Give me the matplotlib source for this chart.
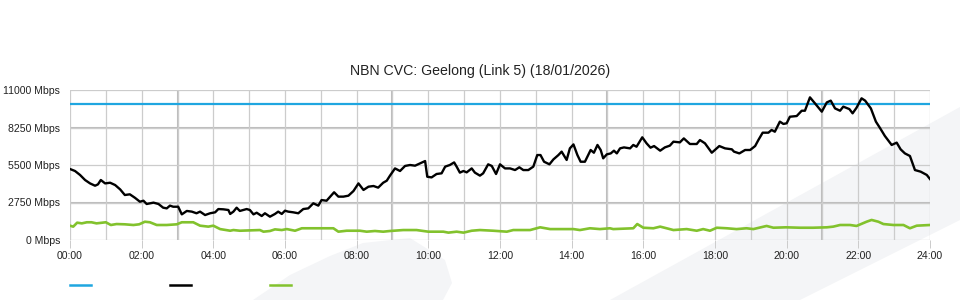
"""
NBN CVC link utilisation for one day (Geelong, link 5).
Values read off the daily graph.
"""

import matplotlib

matplotlib.use("Agg")
import matplotlib.pyplot as plt
from matplotlib.lines import Line2D
from matplotlib.patches import Polygon

plt.rcParams["font.family"] = ["Liberation Sans", "DejaVu Sans"]

TITLE = "NBN CVC: Geelong (Link 5) (18/01/2026)"

# capacity of the link (Mbps)
capacity_hours = [0, 24]
capacity_mbps = [10000, 10000]

# traffic (Mbps), hour of day
traffic_hours = [
    0.00, 0.14, 0.28, 0.42, 0.56, 0.70, 0.78, 0.86, 0.98, 1.12, 1.26, 1.40,
    1.53, 1.67, 1.81, 1.95, 2.05, 2.14, 2.33, 2.47, 2.60, 2.70, 2.79, 2.88,
    3.02, 3.12, 3.26, 3.40, 3.53, 3.63, 3.77, 3.91, 4.05, 4.14, 4.28, 4.42,
    4.47, 4.56, 4.65, 4.74, 4.93, 5.02, 5.12, 5.21, 5.35, 5.44, 5.58, 5.72,
    5.81, 5.91, 6.00, 6.09, 6.23, 6.37, 6.51, 6.65, 6.79, 6.93, 7.02, 7.16,
    7.26, 7.37, 7.49, 7.63, 7.77, 7.91, 8.05, 8.19, 8.33, 8.47, 8.60, 8.74,
    8.84, 8.93, 9.07, 9.21, 9.35, 9.49, 9.63, 9.77, 9.91, 9.97, 10.09, 10.23,
    10.37, 10.47, 10.60, 10.72, 10.79, 10.88, 10.98, 11.07, 11.21, 11.30, 11.44,
    11.53, 11.67, 11.77, 11.89, 12.00, 12.14, 12.28, 12.42, 12.54, 12.65, 12.79,
    12.93, 13.04, 13.13, 13.23, 13.38, 13.49, 13.63, 13.72, 13.86, 13.95, 14.05,
    14.16, 14.25, 14.37, 14.53, 14.62, 14.72, 14.81, 14.88, 14.98, 15.09, 15.18,
    15.26, 15.35, 15.46, 15.63, 15.72, 15.81, 15.97, 16.09, 16.20, 16.30, 16.47,
    16.60, 16.74, 16.84, 17.02, 17.13, 17.30, 17.49, 17.58, 17.72, 17.91, 18.12,
    18.28, 18.47, 18.53, 18.68, 18.84, 18.98, 19.12, 19.21, 19.33, 19.49, 19.58,
    19.67, 19.81, 19.91, 20.00, 20.09, 20.28, 20.42, 20.51, 20.65, 20.79, 20.98,
    21.12, 21.23, 21.35, 21.49, 21.58, 21.75, 21.84, 21.95, 22.09, 22.19, 22.35,
    22.49, 22.61, 22.74, 22.93, 23.07, 23.18, 23.30, 23.44, 23.58, 23.74, 23.91,
    24.00,
]
traffic_mbps = [
    5206, 5060, 4770, 4400, 4150, 3980, 4080, 4400, 4150, 4200, 4030, 3710,
    3300, 3350, 3100, 2810, 2880, 2640, 2740, 2640, 2370, 2320, 2520, 2440,
    2440, 1880, 2130, 2080, 1960, 2080, 1830, 1960, 2030, 2270, 2250, 2200,
    1910, 2080, 2370, 2130, 2270, 2200, 1880, 2000, 1760, 1960, 1710, 1910,
    2080, 1910, 2150, 2080, 2030, 1960, 2270, 2320, 2690, 2520, 2930, 2880,
    3180, 3500, 3180, 3180, 3250, 3590, 4150, 3670, 3910, 3960, 3840, 4200,
    4350, 4720, 5250, 5060, 5430, 5500, 5450, 5620, 5790, 4640, 4590, 4840,
    4890, 5380, 5500, 5690, 5380, 4940, 5060, 4960, 5250, 4940, 4720,
    4890, 5550, 5430, 4840, 5550, 5250, 5250, 5130, 5330, 5130, 5130,
    5380, 6230, 6230, 5740, 5550, 5910, 6230, 6480, 5870, 6720, 7010,
    6230, 5740, 5740, 6600, 6400, 6970, 6600, 5990, 6280, 6350, 6550,
    6350, 6720, 6790, 6720, 6970, 6840, 7530, 7090, 6770, 6890, 6550,
    6790, 6920, 7210, 7160, 7450, 7040, 7040, 7330, 7090, 6400, 6890,
    6720, 6650, 6480, 6350, 6600, 6600, 6890, 7330, 7870, 7870, 8070,
    7940, 8680, 8510, 8560, 9040, 9090, 9480, 9480, 10460, 10020, 9410,
    10090, 10220, 9650, 9480, 9780, 9600, 9290, 9700, 10390, 10220, 9650,
    8680, 8190, 7630, 6970, 7140, 6650, 6350, 6160, 5130, 5010, 4770,
    4470,
]

# third series (green), hour of day
green_hours = [
    0.00, 0.09, 0.20, 0.33, 0.47, 0.60, 0.74, 1.00, 1.14, 1.30, 1.53, 1.77,
    1.93, 2.09, 2.23, 2.42, 2.70, 2.98, 3.12, 3.44, 3.63, 3.86, 4.00, 4.19,
    4.47, 4.56, 4.74, 5.30, 5.40, 5.58, 5.72, 5.91, 6.05, 6.28, 6.47, 6.88,
    7.35, 7.49, 7.72, 8.09, 8.28, 8.51, 8.74, 8.93, 9.30, 9.67, 10.00, 10.42,
    10.56, 10.79, 10.98, 11.21, 11.44, 11.81, 12.19, 12.37, 12.84, 13.12, 13.40,
    14.05, 14.23, 14.51, 14.79, 15.07, 15.16, 15.72, 15.83, 16.00, 16.28, 16.47,
    16.65, 16.84, 17.21, 17.49, 17.67, 17.86, 18.05, 18.33, 18.60, 18.88, 19.07,
    19.44, 19.63, 19.98, 20.37, 20.74, 21.12, 21.30, 21.49, 21.77, 21.95, 22.23,
    22.37, 22.56, 22.70, 22.98, 23.26, 23.44, 23.63, 24.00,
]
green_mbps = [
    1050, 980, 1270, 1220, 1300, 1300, 1220, 1300, 1100, 1170, 1150, 1100,
    1150, 1340, 1300, 1100, 1100, 1150, 1300, 1300, 1050, 980, 1050, 800,
    680, 730, 680, 730, 610, 660, 780, 730, 800, 680, 860, 860,
    860, 610, 680, 680, 610, 660, 610, 660, 730, 730, 610, 610,
    540, 610, 540, 680, 730, 680, 610, 730, 730, 930, 800,
    800, 730, 860, 800, 860, 800, 860, 1170, 900, 860, 980,
    860, 730, 800, 680, 800, 680, 900, 860, 800, 860, 800,
    1030, 900, 930, 900, 900, 930, 980, 1100, 1100, 1030, 1340,
    1470, 1340, 1170, 1100, 1100, 860, 1050, 1100,
]

y_ticks = [0, 2750, 5500, 8250, 11000]

BLUE = "#1fa6e0"
GREEN = "#82c22d"
GRID = "#cccccc"
GRID_DARK = "#bdbdbd"
WATERMARK = "#f4f5f7"


def px(x, y):
    # pixel position on the 960x300 canvas -> figure fraction
    return (x / 960, 1 - y / 300)


fig = plt.figure(figsize=(9.6, 3.0), dpi=100)

# faint background swooshes, behind everything
fig.patches.append(Polygon(
    [px(253, 300), px(290, 275), px(330, 256), px(363, 243), px(410, 238),
     px(445, 260), px(452, 283), px(443, 300)],
    closed=True, transform=fig.transFigure, facecolor=WATERMARK,
    edgecolor="none", zorder=-5))
fig.patches.append(Polygon(
    [px(610, 300), px(960, 107), px(960, 220), px(800, 300)],
    closed=True, transform=fig.transFigure, facecolor=WATERMARK,
    edgecolor="none", zorder=-5))

ax = fig.add_axes([70 / 960, 0.2, 860 / 960, 0.5])
ax.set_facecolor("none")

ax.set_xlim(0, 24)
ax.set_ylim(0, 11000)

ax.set_xticks(range(0, 25, 2))
ax.set_xticklabels([f"{h:02d}:00" for h in range(0, 25, 2)])
ax.set_xticks(range(1, 24, 2), minor=True)
ax.set_yticks(y_ticks)
ax.set_yticklabels([f"{v} Mbps" for v in y_ticks])

# sizes below are points at 100 dpi (1 px = 0.72 pt)
ax.tick_params(axis="x", which="major", length=5.8, width=0.72, color=GRID,
               pad=2, labelsize=7.6, labelcolor="#222222")
ax.tick_params(axis="x", which="minor", length=0)
ax.tick_params(axis="y", length=0, pad=7, labelsize=7.6, labelcolor="#222222")

for s in ax.spines.values():
    s.set_visible(False)

ax.grid(True, which="both", axis="x", color=GRID, linewidth=0.9)
ax.grid(True, which="major", axis="y", color=GRID, linewidth=0.9)
for h in [3, 9, 15, 21]:
    ax.axvline(h, color=GRID_DARK, linewidth=1.5, zorder=0.5)
for v in [2750, 8250]:
    ax.axhline(v, color=GRID_DARK, linewidth=1.5, zorder=0.5)
ax.set_axisbelow(True)

ax.plot(capacity_hours, capacity_mbps, color=BLUE, linewidth=1.6, zorder=3)
ax.plot(green_hours, green_mbps, color=GREEN, linewidth=1.9, zorder=3)
ax.plot(traffic_hours, traffic_mbps, color="black", linewidth=1.7, zorder=4)

fig.text(0.5, px(0, 71)[1], TITLE, ha="center", va="center",
         fontsize=10.2, color="#222222")

# legend swatches (no text in the original)
for x0, col in [(70, BLUE), (170, "black"), (270, GREEN)]:
    fig.add_artist(Line2D([x0 / 960, (x0 + 21) / 960], [px(0, 285)[1]] * 2,
                          transform=fig.transFigure, color=col, linewidth=1.8))

fig.savefig("out.png", dpi=100)
